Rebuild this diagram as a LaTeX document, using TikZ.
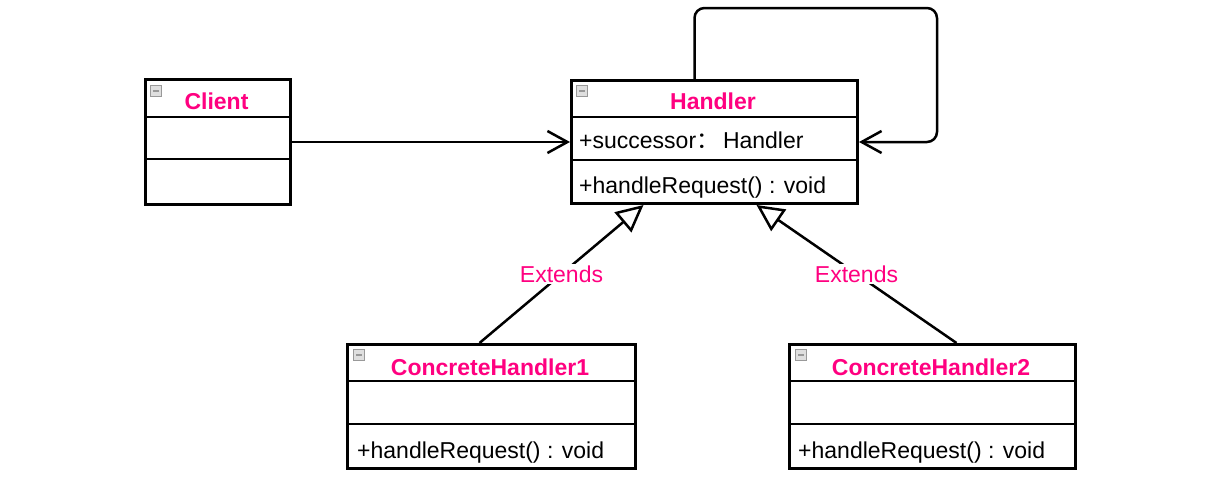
\documentclass[tikz,border=0pt]{standalone}
\usepackage{fontspec}
\setmainfont{Liberation Sans}
\newfontfamily\cjk{Noto Sans CJK SC}
\usetikzlibrary{arrows.meta,calc}
\definecolor{umlpink}{HTML}{FF0080}
\begin{document}
\begin{tikzpicture}[x=1pt,y=-1pt,
  box/.style={draw, line width=3pt, fill=white, anchor=north west, inner sep=0pt},
  divider/.style={line width=1.5pt},
  title/.style={text=umlpink, font=\bfseries\fontsize{23}{27}\selectfont, inner sep=0pt},
  member/.style={anchor=west, font=\fontsize{23}{27}\selectfont, inner sep=0pt},
  assoc/.style={line width=2.5pt, -{Straight Barb[length=20pt,width=22pt,line width=2.5pt]}},
  extends/.style={line width=2.5pt, -{Triangle[open,length=27pt,width=26pt,line width=2.5pt,fill=white]}},
  lbl/.style={fill=white, text=umlpink, font=\fontsize{23}{27}\selectfont, inner sep=2pt},
  icon/.style={draw=gray!80, fill=gray!25, minimum size=11pt, inner sep=0pt, line width=1pt,
    path picture={\draw[line width=1.6pt] ([xshift=2.5pt]path picture bounding box.west) -- ([xshift=-2.5pt]path picture bounding box.east);}}
]
\useasboundingbox (0,0) rectangle (1225,479);

% boxes
\node[box, minimum width=145pt, minimum height=125pt] (client) at (144,78) {};
\node[box, minimum width=286pt, minimum height=123pt] (handler) at (570,79) {};
\node[box, minimum width=288pt, minimum height=124pt] (ch1) at (346,343) {};
\node[box, minimum width=286pt, minimum height=124pt] (ch2) at (788,343) {};

% dividers
\draw[divider] (client.west |- 0,117) -- (client.east |- 0,117);
\draw[divider] (client.west |- 0,159) -- (client.east |- 0,159);
\draw[divider] (handler.west |- 0,117) -- (handler.east |- 0,117);
\draw[divider] (handler.west |- 0,160) -- (handler.east |- 0,160);
\draw[divider] (ch1.west |- 0,381) -- (ch1.east |- 0,381);
\draw[divider] (ch1.west |- 0,424) -- (ch1.east |- 0,424);
\draw[divider] (ch2.west |- 0,381) -- (ch2.east |- 0,381);
\draw[divider] (ch2.west |- 0,424) -- (ch2.east |- 0,424);

% icons
\node[icon] (iclient) at (156,91) {};
\node[icon] (ihandler) at (582,91) {};
\node[icon] (ich1) at (359,355) {};
\node[icon] (ich2) at (801,355) {};

% titles
\node[title] (tclient) at (216.5,101) {Client};
\node[title] (thandler) at (713,101) {Handler};
\node[title] (tch1) at (490,367) {ConcreteHandler1};
\node[title] (tch2) at (931,367) {ConcreteHandler2};

% members
\node[member] (hattr) at (579,140) {+successor{\cjk ：}\,Handler};
\node[member] (hop) at (579,188) {+handleRequest() : void};
\node[member] (op1) at (357,453) {+handleRequest() : void};
\node[member] (op2) at (798,453) {+handleRequest() : void};

% connectors
\draw[assoc] (client.east) -- (handler.west);
\draw[assoc, rounded corners=10pt] ([xshift=-20pt]handler.north) |- (937,8) |- (handler.east);
\draw[extends] ([xshift=-12pt]ch1.north) -- node[lbl] (e1) {Extends} ([xshift=-71pt]handler.south);
\draw[extends] ([xshift=24pt]ch2.north) -- node[lbl] (e2) {Extends} ([xshift=42pt]handler.south);
\end{tikzpicture}
\end{document}
